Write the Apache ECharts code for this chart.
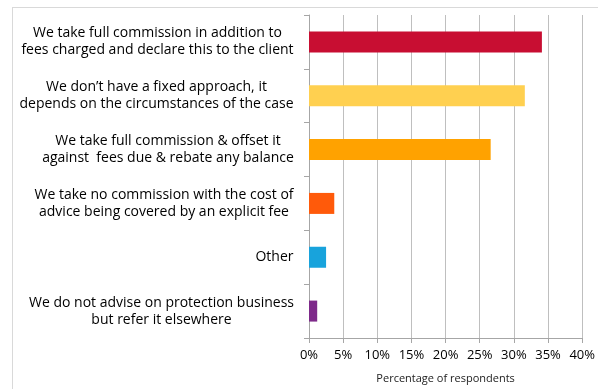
<!DOCTYPE html>
<html>
<head>
<meta charset="utf-8">
<script src="https://cdn.jsdelivr.net/npm/echarts@6/dist/echarts.min.js"></script>
<style>
  html, body { margin: 0; padding: 0; background: #fff; }
  #frame { position: absolute; left: 12px; top: 7px; right: 0; bottom: 0; border-left: 1px solid #d9d9d9; border-top: 1px solid #d9d9d9; }
  #chart { position: absolute; left: 0; top: 0; width: 598px; height: 389px; }
</style>
</head>
<body>
<div id="frame"></div>
<div id="chart"></div>
<script>
// Categories listed bottom-to-top (category axis on y starts at the bottom)
const categories = [
  "We do not advise on protection business\nbut refer it elsewhere",
  "Other",
  "We take no commission with the cost of\nadvice being covered by an explicit fee",
  "We take full commission & offset it\nagainst  fees due & rebate any balance",
  "We don\u2019t have a fixed approach, it\ndepends on the circumstances of the case",
  "We take full commission in addition to\nfees charged and declare this to the client"
];
const values = [1.2, 2.5, 3.7, 26.6, 31.6, 34.1];
const barColors = ["#7E2A8A", "#18A3DC", "#FF5A0A", "#FFA200", "#FFD050", "#C80E32"];
const xTicks = [0, 5, 10, 15, 20, 25, 30, 35, 40];

const FONT = "Open Sans";
const FONT_SIZE = 14;

// Measure each label so multi-line labels can be centred within their own block
const ctx = document.createElement("canvas").getContext("2d");
ctx.font = FONT_SIZE + "px '" + FONT + "'";
const rich = {};
categories.forEach((c, i) => {
  const w = Math.max(...c.split("\n").map(s => ctx.measureText(s).width));
  rich["l" + i] = { width: Math.ceil(w), align: "center", fontFamily: FONT, fontSize: FONT_SIZE, color: "#000", lineHeight: 17 };
});

const chart = echarts.init(document.getElementById("chart"), null, { renderer: "canvas" });
chart.setOption({
  animation: false,
  grid: { left: 309, right: 13, top: 15, bottom: 49, containLabel: false },
  xAxis: {
    type: "value",
    min: xTicks[0],
    max: xTicks[xTicks.length - 1],
    interval: 5,
    name: "Percentage of respondents",
    nameLocation: "middle",
    nameGap: 35,
    nameTextStyle: { fontFamily: FONT, fontSize: 11, color: "#222" },
    axisLine: { show: true, lineStyle: { color: "#a6a6a6" } },
    axisTick: { show: true, length: 5, lineStyle: { color: "#a6a6a6" } },
    axisLabel: { formatter: v => v + "%", fontFamily: FONT, fontSize: 13, color: "#000", margin: 11 },
    splitLine: { show: true, lineStyle: { color: "#bfbfbf" } }
  },
  yAxis: {
    type: "category",
    data: categories,
    axisLine: { show: true, lineStyle: { color: "#a6a6a6" } },
    axisTick: { show: true, length: 5, inside: false, lineStyle: { color: "#a6a6a6" } },
    axisLabel: {
      margin: 15,
      align: "right",
      lineHeight: 17,
      formatter: (v, i) => v.split("\n").map(s => "{l" + i + "|" + s + "}").join("\n"),
      rich: rich
    },
    splitLine: { show: false }
  },
  series: [{
    type: "bar",
    barWidth: "39%",
    data: values.map((v, i) => ({ value: v, itemStyle: { color: barColors[i] } }))
  }]
});
</script>
</body>
</html>
